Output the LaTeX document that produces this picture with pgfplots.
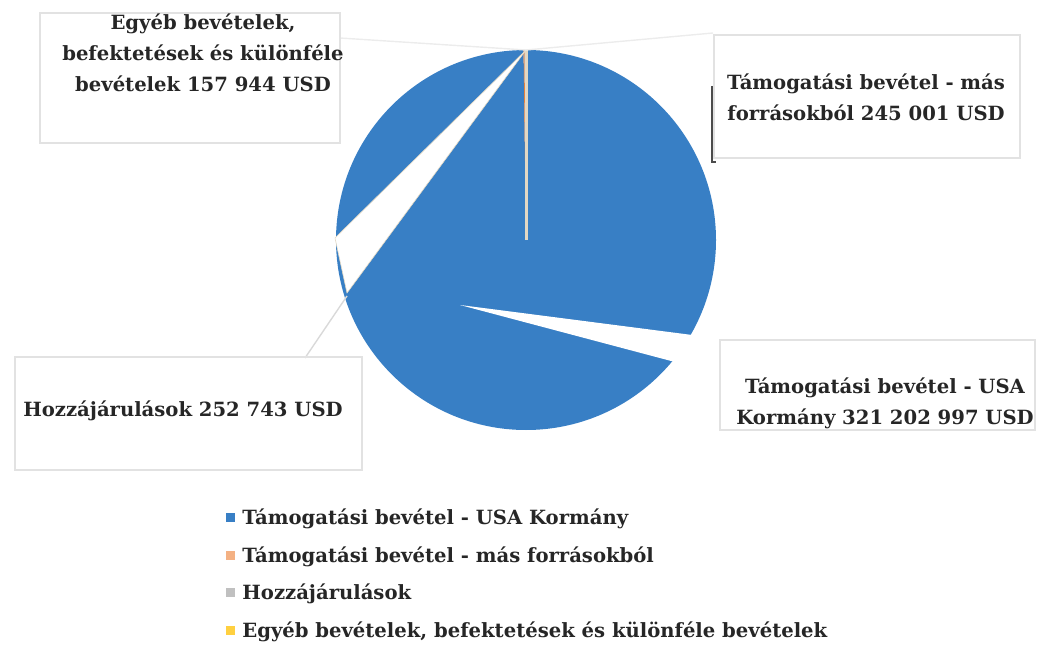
\documentclass[border=0pt]{standalone}
\usepackage{fontspec}
\setmainfont{DejaVu Serif}
\usepackage{pgfplots}
\usepackage{pgfplotstable}
\pgfplotsset{compat=1.18}

\definecolor{sliceA}{RGB}{56,127,197}
\definecolor{sliceB}{RGB}{237,125,49}
\definecolor{sliceC}{RGB}{165,165,165}
\definecolor{sliceD}{RGB}{255,192,0}
\definecolor{seam}{RGB}{226,216,196}
\definecolor{boxline}{RGB}{226,226,226}
\newcommand{\lf}{\fontsize{9.8}{15.5}\selectfont\bfseries}

% income by source, USD
\pgfplotstableread{
idx value
0 321202997
1 245001
2 252743
3 157944
}\piedata
\pgfplotstablegetelem{0}{value}\of\piedata\let\va\pgfplotsretval
\pgfplotstablegetelem{1}{value}\of\piedata\let\vb\pgfplotsretval
\pgfplotstablegetelem{2}{value}\of\piedata\let\vc\pgfplotsretval
\pgfplotstablegetelem{3}{value}\of\piedata\let\vd\pgfplotsretval
\edef\aA{\fpeval{360*\va/(\va+\vb+\vc+\vd)}}
\edef\aB{\fpeval{360*\vb/(\va+\vb+\vc+\vd)}}
\edef\aC{\fpeval{360*\vc/(\va+\vb+\vc+\vd)}}
\edef\aD{\fpeval{360*\vd/(\va+\vb+\vc+\vd)}}
\edef\sB{\fpeval{90-\aA}}
\edef\sC{\fpeval{90-\aA-\aB}}
\edef\sD{\fpeval{90-\aA-\aB-\aC}}

\begin{document}
\begin{tikzpicture}
\begin{axis}[
  scale only axis, width=519.5pt, height=331.5pt,
  xmin=0, xmax=1039, ymin=0, ymax=663, y dir=reverse,
  hide axis, clip=false,
]
% slices, clockwise from the top
\fill[sliceA] (axis cs:526,240) -- ++(90:95pt) arc[start angle=90, delta angle=-\aA, radius=95pt] -- cycle;
\fill[sliceB] (axis cs:526,240) -- ++(\sB:95pt) arc[start angle=\sB, delta angle=-\aB, radius=95pt] -- cycle;
\fill[sliceC] (axis cs:526,240) -- ++(\sC:95pt) arc[start angle=\sC, delta angle=-\aC, radius=95pt] -- cycle;
\fill[sliceD] (axis cs:526,240) -- ++(\sD:95pt) arc[start angle=\sD, delta angle=-\aD, radius=95pt] -- cycle;
\draw[seam, line width=1.4pt] (axis cs:526.5,50) -- (axis cs:526.5,240);

% leader lines (light in the scan)
\fill[white, draw=seam, line width=0.3pt] (axis cs:526,50) -- (axis cs:335,238) -- (axis cs:347,293) -- cycle;
\fill[white] (axis cs:460,305) -- (axis cs:700,336) -- (axis cs:690,366) -- cycle;
\draw[gray!30, line width=0.7pt] (axis cs:347,296) -- (axis cs:305,358);
\draw[gray!15, line width=0.7pt] (axis cs:340,38) -- (axis cs:526,50) -- (axis cs:713,33);
\draw[black!70, line width=0.6pt] (axis cs:712,86) -- (axis cs:712,162) -- (axis cs:716,162);

% label boxes
\draw[boxline, line width=0.8pt] (axis cs:40,13) rectangle (axis cs:340,143);
\draw[boxline, line width=0.8pt] (axis cs:714,35) rectangle (axis cs:1020,158);
\draw[boxline, line width=0.8pt] (axis cs:15,357) rectangle (axis cs:362,470);
\draw[boxline, line width=0.8pt] (axis cs:720,340) rectangle (axis cs:1035,430);

\node[align=center, font=\lf, text=black!85] at (axis cs:203,53) {Egyéb bevételek,\\befektetések és különféle\\bevételek 157 944 USD};
\node[align=center, font=\lf, text=black!85] at (axis cs:866,97) {Támogatási bevétel - más\\forrásokból 245 001 USD};
\node[align=center, font=\lf, text=black!85] at (axis cs:183,411) {Hozzájárulások 252 743 USD};
\node[align=center, font=\lf, text=black!85] at (axis cs:885,403) {Támogatási bevétel - USA\\Kormány 321 202 997 USD};

% legend
\fill[sliceA] (axis cs:226,512.5) rectangle (axis cs:235,521.5);
\fill[sliceB!60!white] (axis cs:226,550.5) rectangle (axis cs:235,559.5);
\fill[sliceC!70!white] (axis cs:226,587.5) rectangle (axis cs:235,596.5);
\fill[sliceD!75!white] (axis cs:226,625.5) rectangle (axis cs:235,634.5);
\node[anchor=base west, inner sep=0pt, font=\lf, text=black!85] at (axis cs:242,524) {Támogatási bevétel - USA Kormány};
\node[anchor=base west, inner sep=0pt, font=\lf, text=black!85] at (axis cs:242,562) {Támogatási bevétel - más forrásokból};
\node[anchor=base west, inner sep=0pt, font=\lf, text=black!85] at (axis cs:242,599) {Hozzájárulások};
\node[anchor=base west, inner sep=0pt, font=\lf, text=black!85] at (axis cs:242,637) {Egyéb bevételek, befektetések és különféle bevételek};
\end{axis}
\pgfresetboundingbox
\path[use as bounding box] (current axis.south west) rectangle (current axis.north east);
\end{tikzpicture}
\end{document}
